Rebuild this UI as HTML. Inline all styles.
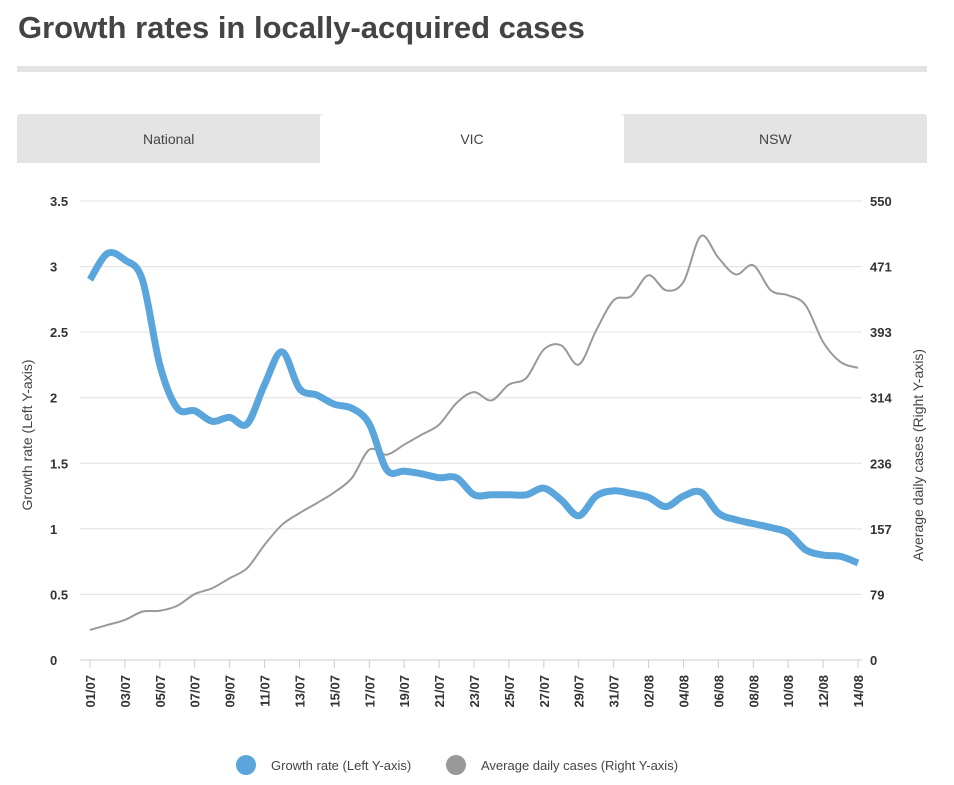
<!DOCTYPE html>
<html><head><meta charset="utf-8"><style>
body{margin:0;width:954px;height:785px;background:#fff;font-family:"Liberation Sans",sans-serif;overflow:hidden;position:relative}
h1{position:absolute;left:18px;top:10px;margin:0;font-size:31px;font-weight:bold;color:#444}
.bar{position:absolute;left:17px;top:66px;width:910px;height:6px;background:#e4e4e4}
.tabs{position:absolute;left:17px;top:114px;width:910px;height:49px;background:#e4e4e4;display:flex;border-radius:3px 3px 0 0}
.tab{flex:1;display:flex;align-items:center;justify-content:center;font-size:14px;color:#444;cursor:pointer}
.tab.active{background:#fff;border-radius:3px 3px 0 0}
svg{position:absolute;left:0;top:0}
</style></head><body>
<h1>Growth rates in locally-acquired cases</h1>
<div class="bar"></div>
<div class="tabs">
<div class="tab">National</div>
<div class="tab active">VIC</div>
<div class="tab">NSW</div>
</div>
<svg id="chart" width="954" height="785"></svg>
<script>
const growthRate=[2.9,3.1,3.05,2.9,2.25,1.92,1.9,1.82,1.85,1.8,2.1,2.35,2.07,2.02,1.95,1.92,1.8,1.45,1.44,1.42,1.39,1.39,1.26,1.26,1.26,1.26,1.31,1.22,1.1,1.25,1.29,1.27,1.24,1.17,1.25,1.28,1.12,1.07,1.04,1.01,0.97,0.84,0.8,0.79,0.74];
const avgCases=[36,42,48,58,59,65,79,86,98,110,138,162,176,188,201,218,252,246,258,270,282,308,321,311,330,338,372,377,354,395,431,436,461,443,453,508,482,462,473,443,437,425,381,357,350];
const leftTicks=["0","0.5","1","1.5","2","2.5","3","3.5"];
const rightTicks=["0","79","157","236","314","393","471","550"];
const dates=[];
(function(){for(let i=0;i<45;i++){const d=new Date(2020,6,1+i);dates.push(String(d.getDate()).padStart(2,'0')+'/'+String(d.getMonth()+1).padStart(2,'0'));}})();
const NS="http://www.w3.org/2000/svg",svg=document.getElementById('chart');
const X0=90,X1=858,Y0=660,Y1=201;
const x=i=>X0+(X1-X0)*i/(dates.length-1);
const yL=v=>Y0-(Y0-Y1)*v/3.5;
const yR=v=>Y0-(Y0-Y1)*v/550;
function mk(t,a,p){const e=document.createElementNS(NS,t);for(const k in a)e.setAttribute(k,a[k]);(p||svg).appendChild(e);return e;}
leftTicks.forEach((t,i)=>{const yy=Y0-(Y0-Y1)*i/7;
const g=mk('line',{x1:80,x2:862,y1:yy,y2:yy,stroke:i==0?'#ccc':'#e0e0e0','stroke-width':1});

const a=mk('text',{x:50,y:yy+5,'font-size':13,'font-weight':'bold',fill:'#333'});a.textContent=t;

const b=mk('text',{x:870,y:yy+5,'font-size':13,'font-weight':'bold',fill:'#333'});b.textContent=rightTicks[i];
});
dates.forEach((d,i)=>{if(i%2)return;
const tk=mk('line',{x1:x(i),x2:x(i),y1:Y0,y2:Y0+8,stroke:'#ccc'});

const t=mk('text',{x:0,y:0,'font-size':13,'font-weight':'bold',fill:'#333','text-anchor':'end',transform:`translate(${x(i)+5},675) rotate(-90)`});t.textContent=d;
});
function path(pts){let s=`M${pts[0][0]},${pts[0][1]}`;for(let i=0;i<pts.length-1;i++){const p0=pts[i-1]||pts[i],p1=pts[i],p2=pts[i+1],p3=pts[i+2]||p2;
s+=` C${p1[0]+(p2[0]-p0[0])/6},${p1[1]+(p2[1]-p0[1])/6} ${p2[0]-(p3[0]-p1[0])/6},${p2[1]-(p3[1]-p1[1])/6} ${p2[0]},${p2[1]}`;}return s;}
const gl=mk('path',{d:path(avgCases.map((v,i)=>[x(i),yR(v)])),fill:'none',stroke:'#999','stroke-width':2});

const bl=mk('path',{d:path(growthRate.map((v,i)=>[x(i),yL(v)])),fill:'none',stroke:'#5aa5dc','stroke-width':7,'stroke-linejoin':'round'});

const lt=mk('text',{x:0,y:0,'font-size':14,fill:'#444','text-anchor':'middle',transform:'translate(32,435) rotate(-90)'});lt.textContent='Growth rate (Left Y-axis)';

const rt=mk('text',{x:0,y:0,'font-size':14,fill:'#444','text-anchor':'middle',transform:'translate(923,455) rotate(-90)'});rt.textContent='Average daily cases (Right Y-axis)';

const c1=mk('circle',{cx:246,cy:765,r:10,fill:'#5aa5dc'});
const t1=mk('text',{x:271,y:770,'font-size':13,fill:'#444'});t1.textContent='Growth rate (Left Y-axis)';

const c2=mk('circle',{cx:456,cy:765,r:10,fill:'#999'});
const t2=mk('text',{x:481,y:770,'font-size':13,fill:'#444'});t2.textContent='Average daily cases (Right Y-axis)';

</script>
</body></html>
